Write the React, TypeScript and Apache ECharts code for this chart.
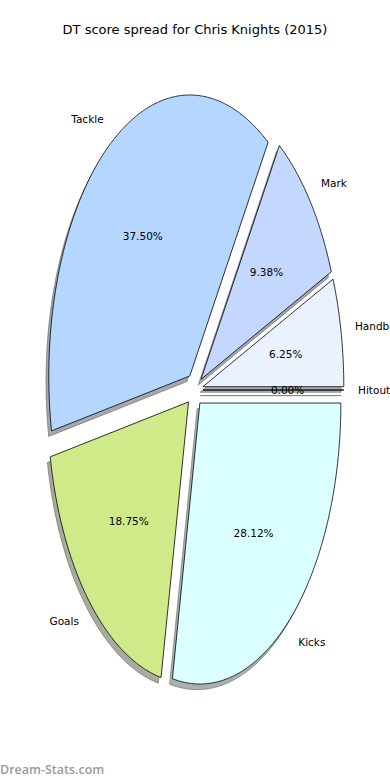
import React, { useEffect, useRef } from 'react';
import * as echarts from 'echarts';

// ---- data ----
const categories = ['Handball', 'Mark', 'Tackle', 'Goals', 'Kicks', 'Hitout'];
const percentages = [6.25, 9.38, 37.5, 18.75, 28.12, 0];
const sliceColors = ['#ebf2ff', '#c4d8ff', '#b4d6ff', '#d0ea8a', '#dbffff', '#e6e6e6'];
const titleText = 'DT score spread for Chris Knights (2015)';
const watermarkText = 'Dream-Stats.com';

// ---- geometry / style ----
const CX = 194.5;
const CY = 390;
const RX = 141;
const RY = 281;
const EXPLODE = 0.06;
const SHADOW = 0.02;
const LABEL_DIST = 1.1;
const PCT_DIST = 0.6;
const SPAN = 1.3;
const FONT = '"DejaVu Sans", sans-serif';

const total = percentages.reduce((a, b) => a + b, 0);

function sliceAngles(i: number) {
  let start = 0;
  for (let k = 0; k < i; k++) start += percentages[k];
  const t1 = (start / total) * Math.PI * 2;
  const t2 = ((start + percentages[i]) / total) * Math.PI * 2;
  return { t1, t2, m: (t1 + t2) / 2 };
}

function shadowColor(hex: string) {
  const h = hex.replace('#', '');
  const r = parseInt(h.slice(0, 2), 16) * 0.3;
  const g = parseInt(h.slice(2, 4), 16) * 0.3;
  const b = parseInt(h.slice(4, 6), 16) * 0.3;
  return `rgba(${Math.round(r)},${Math.round(g)},${Math.round(b)},0.45)`;
}

function wedgePoints(api: any, i: number, dx: number, dy: number) {
  const { t1, t2, m } = sliceAngles(i);
  const ox = EXPLODE * Math.cos(m) + dx;
  const oy = EXPLODE * Math.sin(m) + dy;
  const pts: number[][] = [api.coord([ox, oy])];
  const n = Math.max(2, Math.ceil((t2 - t1) / (Math.PI / 360)));
  for (let k = 0; k <= n; k++) {
    const t = t1 + ((t2 - t1) * k) / n;
    pts.push(api.coord([ox + Math.cos(t), oy + Math.sin(t)]));
  }
  return pts;
}

export default function App() {
  const ref = useRef<HTMLDivElement>(null);

  useEffect(() => {
    if (!ref.current) return;
    const chart = echarts.init(ref.current, undefined, { renderer: 'svg' });
    const data = percentages.map((v, i) => [0, 0, v, i]);

    chart.setOption({
      animation: false,
      backgroundColor: '#ffffff',
      title: {
        text: titleText,
        left: 'center',
        top: 23,
        padding: 0,
        textStyle: { fontFamily: FONT, fontSize: 13, fontWeight: 'normal', color: '#000' },
      },
      grid: {
        left: CX - SPAN * RX,
        width: 2 * SPAN * RX,
        top: CY - SPAN * RY,
        height: 2 * SPAN * RY,
      },
      xAxis: { type: 'value', min: -SPAN, max: SPAN, show: false, splitLine: { show: false } },
      yAxis: { type: 'value', min: -SPAN, max: SPAN, show: false, splitLine: { show: false } },
      graphic: [
        {
          type: 'text',
          left: 0,
          top: 763,
          style: {
            text: watermarkText,
            fill: '#9a9a9a',
            font: '600 12.5px "Open Sans", sans-serif',
          },
        },
      ],
      series: [
        {
          type: 'custom',
          coordinateSystem: 'cartesian2d',
          z: 1,
          silent: true,
          clip: false,
          data,
          renderItem: (params: any, api: any) => {
            const i = params.dataIndex;
            const c = shadowColor(sliceColors[i]);
            return {
              type: 'polygon',
              shape: { points: wedgePoints(api, i, -SHADOW, -SHADOW) },
              style: { fill: c, stroke: c, lineWidth: 1 },
            };
          },
        },
        {
          type: 'custom',
          coordinateSystem: 'cartesian2d',
          z: 2,
          silent: true,
          clip: false,
          data,
          renderItem: (params: any, api: any) => {
            const i = params.dataIndex;
            const v = api.value(2);
            const { m } = sliceAngles(i);
            const ex = EXPLODE * Math.cos(m);
            const ey = EXPLODE * Math.sin(m);
            const lp = api.coord([ex + LABEL_DIST * Math.cos(m), ey + LABEL_DIST * Math.sin(m)]);
            const pp = api.coord([ex + PCT_DIST * Math.cos(m), ey + PCT_DIST * Math.sin(m)]);
            const xt = LABEL_DIST * Math.cos(m) + ex;
            const align = xt > 0 ? 'left' : 'right';
            return {
              type: 'group',
              children: [
                {
                  type: 'polygon',
                  shape: { points: wedgePoints(api, i, 0, 0) },
                  style: { fill: sliceColors[i], stroke: '#000', lineWidth: 0.8 },
                },
                {
                  type: 'text',
                  x: lp[0],
                  y: lp[1],
                  style: {
                    text: categories[i],
                    fill: '#000',
                    font: `10.5px ${FONT}`,
                    align,
                    verticalAlign: 'middle',
                  },
                },
                {
                  type: 'text',
                  x: pp[0],
                  y: pp[1],
                  style: {
                    text: ((v / total) * 100).toFixed(2) + '%',
                    fill: '#000',
                    font: `10.5px ${FONT}`,
                    align: 'center',
                    verticalAlign: 'middle',
                  },
                },
              ],
            };
          },
        },
      ],
    });

    return () => chart.dispose();
  }, []);

  return (
    <div
      ref={ref}
      style={{ position: 'fixed', left: 0, top: 0, width: 390, height: 780, background: '#fff' }}
    />
  );
}
